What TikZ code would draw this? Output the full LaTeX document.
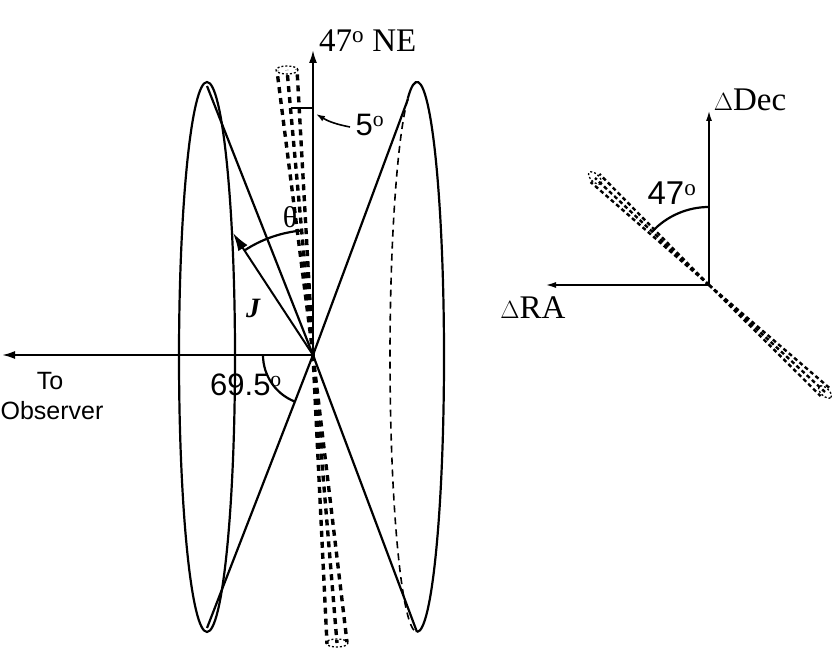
\documentclass[tikz,border=0pt]{standalone}
\usepackage{fontspec}
\setmainfont{Liberation Serif}
\setsansfont{Liberation Sans}
\usetikzlibrary{arrows.meta,calc}
\tikzstyle{axis}=[-{Latex[length=13pt,width=8pt]},line width=2pt]
\tikzstyle{jet}=[line width=3.4pt,dash pattern=on 6pt off 5pt]
\tikzstyle{jetend}=[dash pattern=on 2pt off 2pt,line width=1.3pt]
\tikzstyle{lbl}=[font=\fontsize{25}{28}\selectfont\sffamily,inner sep=0]
\tikzstyle{slbl}=[font=\fontsize{33}{36}\selectfont,inner sep=0]
\begin{document}
\begin{tikzpicture}[x=1pt,y=1pt,line width=2.2pt]
\useasboundingbox (0,0) rectangle (832,653);

% left: cones
\coordinate (O) at (313,298);
\draw[axis] (O) -- (313,603) coordinate (ne);
\node[slbl,anchor=south west] (nelbl) at (318,600) {47$^{\rm o}$ NE};
\draw[axis] (O) -- (2,298) coordinate (obs);
\node[lbl] (to) at (50,272) {To};
\node[lbl] (observer) at (52,242) {Observer};

\draw (207,296) ellipse [x radius=28, y radius=275];
\draw (417,296) ++(110:27 and 275) arc [start angle=110, end angle=-90, x radius=27, y radius=275];
\draw[dashed,line width=1.6pt,dash pattern=on 7pt off 5pt] (417,296) ++(110:27 and 275) arc [start angle=110, end angle=270, x radius=27, y radius=275];
\draw (O) -- (207,567) (O) -- (207,25) (O) -- (408,554) (O) -- (417,21);

% jet
\foreach \d in {-10,0,10}
{
  \draw[jet] (O) -- ($(287,583)+(\d,0.087*\d)$);
  \draw[jet] (O) -- ($(337,10)+(\d,0.087*\d)$);
}
\draw[jetend] (287,583) ellipse [x radius=11, y radius=4];
\draw[jetend] (337,10) ellipse [x radius=11, y radius=4];

\draw[axis,-{Latex[length=18pt,width=11pt]}] (O) -- (233,420) coordinate (J);
\node[slbl,font=\fontsize{28}{30}\selectfont\bfseries\itshape] (jlbl) at (253,345) {J};

% angles
\draw (291,545) -- (313,545);
\draw[-{Latex[length=9pt,width=6pt]},line width=1.6pt] (350,526) to[bend left=10] (316,539);
\node[lbl,font=\fontsize{31}{33}\selectfont\sffamily] (five) at (370,528) {5$^{\rm o}$};
\draw (O) ++(95:125) arc [start angle=95, end angle=123, radius=125];
\node[slbl,font=\fontsize{30}{32}\selectfont] (theta) at (290,436) {θ};
\draw (O) ++(180:50) arc [start angle=180, end angle=249, radius=50];
\node[lbl,font=\fontsize{31}{33}\selectfont\sffamily] (ang) at (246,268) {69.5$^{\rm o}$};

% right: sky plane
\coordinate (R) at (709,368);
\draw[axis,-{Latex[length=11pt,width=6pt]}] (R) -- (709,543);
\node[slbl] (dec) at (750,553) {$\Delta$Dec};
\draw[axis,-{Latex[length=11pt,width=6pt]}] (R) -- (545,368);
\node[slbl] (ra) at (533,345) {$\Delta$RA};
\foreach \d in {-6,0,6}
{
  \draw[jet,line width=2.4pt,dash pattern=on 4pt off 3pt] (R) -- ($(595,475)+(0.73*\d,0.68*\d)$);
  \draw[jet,line width=2.4pt,dash pattern=on 4pt off 3pt] (R) -- ($(825,261)+(0.73*\d,0.68*\d)$);
}
\draw[jetend,rotate around={-43:(595,475)}] (595,475) ellipse [x radius=8, y radius=4];
\draw[jetend,rotate around={-43:(825,261)}] (825,261) ellipse [x radius=8, y radius=4];
\draw (R) ++(90:78) arc [start angle=90, end angle=137, radius=78];
\node[lbl,font=\fontsize{33}{35}\selectfont\sffamily] (fortyseven) at (672,460) {47$^{\rm o}$};
\end{tikzpicture}
\end{document}
